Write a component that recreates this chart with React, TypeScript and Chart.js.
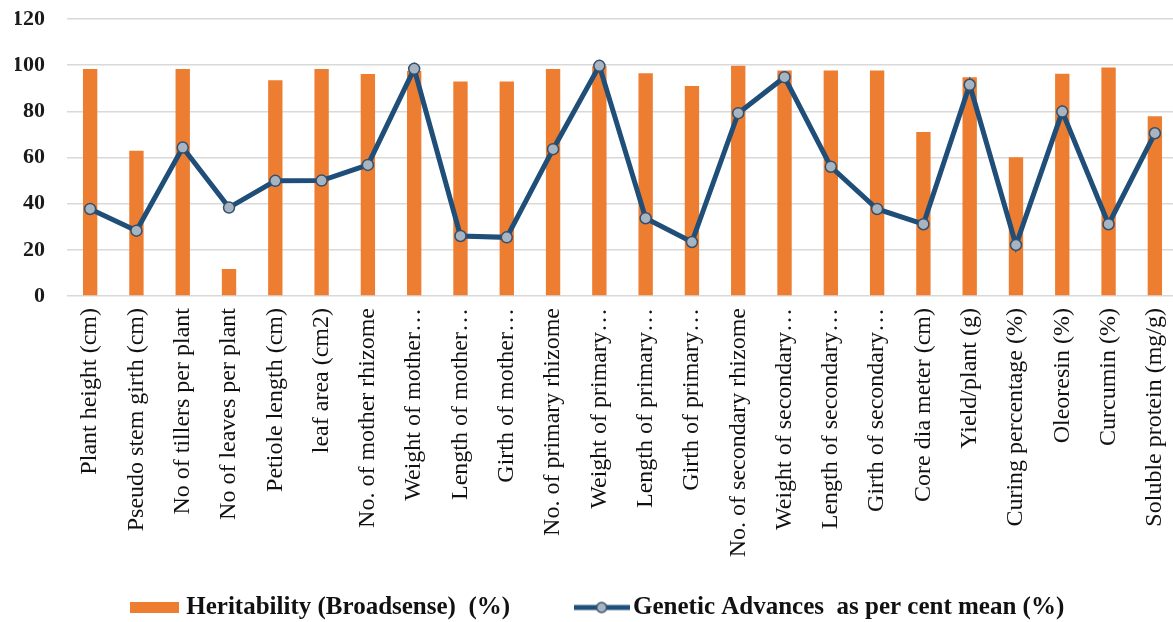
import React, { useEffect, useRef } from "react";
import { Chart, registerables } from "chart.js";

Chart.register(...registerables);

const categories: string[] = [
  "Plant height (cm)",
  "Pseudo stem girth (cm)",
  "No of tillers per plant",
  "No of leaves per plant",
  "Petiole length (cm)",
  "leaf area (cm2)",
  "No. of mother rhizome",
  "Weight of mother…",
  "Length of mother…",
  "Girth of mother…",
  "No. of primary rhizome",
  "Weight of primary…",
  "Length of primary…",
  "Girth of primary…",
  "No. of secondary rhizome",
  "Weight of secondary…",
  "Length of secondary…",
  "Girth of secondary…",
  "Core dia meter (cm)",
  "Yield/plant (g)",
  "Curing percentage (%)",
  "Oleoresin (%)",
  "Curcumin (%)",
  "Soluble protein (mg/g)",
];

const heritability: number[] = [
  98.3, 62.9, 98.3, 11.7, 93.5, 98.3, 96.2, 97.5, 92.9, 92.9, 98.3, 99.5,
  96.5, 91, 99.7, 97.7, 97.7, 97.7, 71.1, 94.8, 60.1, 96.3, 99, 77.9,
];

const geneticAdvance: number[] = [
  37.7, 28.3, 64.3, 38.3, 49.9, 50, 56.8, 98.4, 26, 25.4, 63.6, 99.7, 33.7,
  23.4, 79.2, 94.8, 56, 37.7, 31.1, 91.5, 22.1, 79.9, 31.1, 70.5,
];

const yTicks: number[] = [0, 20, 40, 60, 80, 100, 120];

const legendLabels: string[] = [
  "Heritability (Broadsense)  (%)",
  "Genetic Advances  as per cent mean (%)",
];

const ORANGE = "#ED7D31";
const NAVY = "#1F4E79";
const POINT_FILL = "#A7B4C2";
const POINT_BORDER = "#34506C";
const FONT = "'Liberation Serif', 'Times New Roman', serif";

function makeBarIcon(): HTMLCanvasElement {
  const c = document.createElement("canvas");
  c.width = 49;
  c.height = 11;
  const ctx = c.getContext("2d")!;
  ctx.fillStyle = ORANGE;
  ctx.fillRect(0, 0, 49, 11);
  return c;
}

function makeLineIcon(): HTMLCanvasElement {
  const c = document.createElement("canvas");
  c.width = 56;
  c.height = 14;
  const ctx = c.getContext("2d")!;
  ctx.strokeStyle = NAVY;
  ctx.lineWidth = 5;
  ctx.beginPath();
  ctx.moveTo(0, 7);
  ctx.lineTo(56, 7);
  ctx.stroke();
  ctx.beginPath();
  ctx.arc(28, 7, 5, 0, Math.PI * 2);
  ctx.fillStyle = POINT_FILL;
  ctx.fill();
  ctx.lineWidth = 1.5;
  ctx.strokeStyle = POINT_BORDER;
  ctx.stroke();
  return c;
}

export default function App() {
  const ref = useRef<HTMLCanvasElement | null>(null);

  useEffect(() => {
    document.body.style.margin = "0";
    if (!ref.current) return;
    const barIcon = makeBarIcon();
    const lineIcon = makeLineIcon();

    const chart = new Chart(ref.current, {
      data: {
        labels: categories,
        datasets: [
          {
            type: "bar",
            label: legendLabels[0],
            data: heritability,
            backgroundColor: ORANGE,
            borderWidth: 0,
            barPercentage: 0.31,
            categoryPercentage: 1,
            order: 1,
          },
          {
            type: "line",
            label: legendLabels[1],
            data: geneticAdvance,
            borderColor: NAVY,
            borderWidth: 5,
            tension: 0,
            pointRadius: 5.5,
            pointBackgroundColor: POINT_FILL,
            pointBorderColor: POINT_BORDER,
            pointBorderWidth: 1.5,
            order: 0,
          },
        ],
      },
      options: {
        animation: false,
        responsive: true,
        maintainAspectRatio: false,
        layout: { padding: { top: 19, right: 0, bottom: 0, left: 15 } },
        plugins: {
          tooltip: { enabled: false },
          legend: {
            position: "bottom",
            labels: {
              usePointStyle: true,
              pointStyleWidth: 38,
              padding: 10,
              color: "#111",
              font: { family: FONT, size: 25, weight: "bold" },
              generateLabels: () => [
                {
                  text: legendLabels[0] + "\u2003\u2003\u2002",
                  pointStyle: barIcon,
                  fillStyle: ORANGE,
                  strokeStyle: ORANGE,
                  lineWidth: 0,
                  hidden: false,
                  datasetIndex: 0,
                  fontColor: "#111",
                },
                {
                  text: legendLabels[1],
                  pointStyle: lineIcon,
                  fillStyle: NAVY,
                  strokeStyle: NAVY,
                  lineWidth: 0,
                  hidden: false,
                  datasetIndex: 1,
                  fontColor: "#111",
                },
              ],
            },
          },
        },
        scales: {
          x: {
            grid: { display: false, drawTicks: false },
            border: { display: false },
            ticks: {
              autoSkip: false,
              minRotation: 90,
              maxRotation: 90,
              padding: 12,
              color: "#111",
              font: { family: FONT, size: 24 },
            },
            afterFit: (scale: any) => {
              scale.height = 289;
              scale.paddingLeft = 0;
              scale.paddingRight = 0;
            },
          },
          y: {
            min: 0,
            max: 120,
            afterBuildTicks: (scale: any) => {
              scale.ticks = yTicks.map((v) => ({ value: v }));
            },
            grid: { color: "#D9D9D9", lineWidth: 1.5, drawTicks: false },
            border: { display: false },
            ticks: {
              padding: 22,
              color: "#1a1a1a",
              font: { family: FONT, size: 22, weight: "bold" },
            },
            afterFit: (scale: any) => {
              scale.width = 52;
              scale.paddingTop = 0;
              scale.paddingBottom = 0;
            },
          },
        },
      },
    });
    return () => chart.destroy();
  }, []);

  return (
    <div style={{ position: "relative", width: 1173, height: 622, overflow: "hidden" }}>
      <div style={{ position: "relative", width: 1185, height: 630 }}>
        <canvas ref={ref} />
      </div>
    </div>
  );
}
